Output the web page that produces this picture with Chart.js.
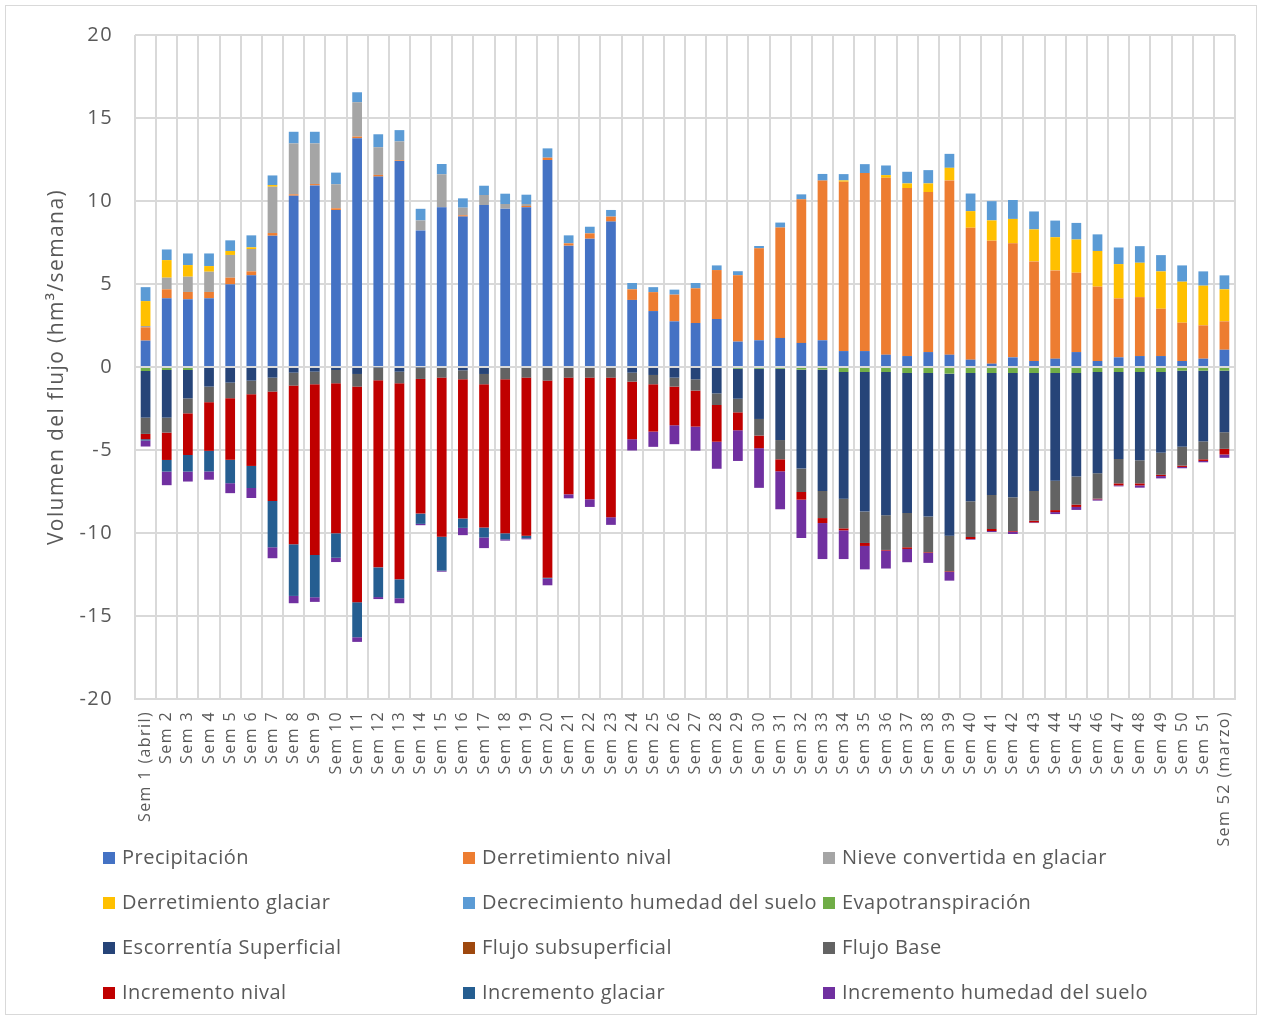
<!DOCTYPE html>
<html><head><meta charset="utf-8">
<script src="https://cdn.jsdelivr.net/npm/chart.js@4/dist/chart.umd.min.js"></script>
<style>
html,body{margin:0;padding:0;background:#fff;}
#frame{position:absolute;left:5px;top:5px;width:1252px;height:1010px;border:1px solid #d9d9d9;box-sizing:border-box;}
#wrap{position:absolute;left:0;top:0;width:1264px;height:860px;}
#legend{position:absolute;left:0;top:835px;width:1264px;height:180px;font-family:"Open Sans",sans-serif;font-size:20px;letter-spacing:0.5px;color:#595959;}
.li{position:absolute;height:44px;line-height:44px;white-space:nowrap;}
.sw{display:inline-block;width:12px;height:12px;margin-right:7px;vertical-align:middle;position:relative;top:-1px;}
</style></head><body>
<div id="frame"></div>
<div id="wrap"><canvas id="c" width="1264" height="860"></canvas></div>
<div id="legend"></div>
<script>
const labels = ['Sem 1 (abril)','Sem 2','Sem 3','Sem 4','Sem 5','Sem 6','Sem 7','Sem 8','Sem 9','Sem 10','Sem 11','Sem 12','Sem 13','Sem 14','Sem 15','Sem 16','Sem 17','Sem 18','Sem 19','Sem 20','Sem 21','Sem 22','Sem 23','Sem 24','Sem 25','Sem 26','Sem 27','Sem 28','Sem 29','Sem 30','Sem 31','Sem 32','Sem 33','Sem 34','Sem 35','Sem 36','Sem 37','Sem 38','Sem 39','Sem 40','Sem 41','Sem 42','Sem 43','Sem 44','Sem 45','Sem 46','Sem 47','Sem 48','Sem 49','Sem 50','Sem 51','Sem 52 (marzo)'];

const seriesNames = ['Precipitación','Derretimiento nival','Nieve convertida en glaciar','Derretimiento glaciar','Decrecimiento humedad del suelo','Evapotranspiración','Escorrentía Superficial','Flujo subsuperficial','Flujo Base','Incremento nival','Incremento glaciar','Incremento humedad del suelo'];
const seriesColors = ['#4472C4','#ED7D31','#A5A5A5','#FFC000','#5B9BD5','#70AD47','#264478','#9E480E','#636363','#C00000','#255E91','#7030A0'];

const precipitacion = [1.59,4.14,4.08,4.14,4.98,5.52,7.91,10.32,10.94,9.46,13.78,11.47,12.41,8.23,9.62,9.06,9.76,9.54,9.62,12.47,7.31,7.73,8.76,4.04,3.37,2.75,2.65,2.89,1.53,1.61,1.75,1.45,1.61,0.96,0.96,0.74,0.66,0.9,0.74,0.44,0.2,0.58,0.36,0.5,0.9,0.36,0.58,0.66,0.66,0.36,0.5,1.04];
const derretimientoNival = [0.8,0.54,0.44,0.38,0.4,0.24,0.16,0.08,0.08,0.1,0.1,0.1,0.04,0,0,0.08,0,0,0.08,0.14,0.14,0.32,0.3,0.64,1.14,1.61,2.09,2.95,4.0,5.54,6.65,8.65,9.62,10.2,10.72,10.66,10.12,9.64,10.5,7.95,7.41,6.87,6.0,5.32,4.78,4.48,3.55,3.55,2.85,2.31,2.01,1.71];
const nieveGlaciar = [0.08,0.7,0.92,1.22,1.37,1.35,2.79,3.07,2.45,1.45,2.07,1.67,1.14,0.6,1.99,0.46,0.6,0.28,0.12,0,0,0,0,0,0,0,0,0,0,0,0,0,0,0,0,0,0,0,0,0,0,0,0,0,0,0,0,0,0,0,0,0];
const derretimientoGlaciar = [1.5,1.06,0.7,0.34,0.24,0.1,0.1,0,0,0,0,0,0,0,0,0,0,0,0,0,0,0,0,0,0,0,0,0,0,0,0,0,0,0.08,0,0.16,0.28,0.52,0.76,1.0,1.22,1.47,1.93,2.0,2.0,2.15,2.07,2.07,2.25,2.47,2.39,1.93];
const decrecimientoHumedad = [0.84,0.64,0.7,0.76,0.64,0.72,0.58,0.7,0.7,0.7,0.6,0.78,0.68,0.7,0.62,0.56,0.56,0.62,0.56,0.56,0.48,0.4,0.4,0.38,0.3,0.3,0.32,0.28,0.24,0.14,0.3,0.3,0.4,0.38,0.54,0.58,0.7,0.8,0.84,1.06,1.16,1.14,1.08,1.0,1.0,1.0,1.0,1.0,0.98,0.98,0.86,0.84];
const evapotranspiracion = [-0.24,-0.18,-0.18,-0.06,-0.06,-0.06,0,0,0,0,0,0,0,0,0,0,0,0,0,0,0,0,0,0,0,0,0,0,-0.1,-0.1,-0.1,-0.16,-0.16,-0.3,-0.3,-0.3,-0.36,-0.36,-0.4,-0.36,-0.36,-0.36,-0.36,-0.36,-0.36,-0.3,-0.3,-0.3,-0.3,-0.22,-0.22,-0.22];
const escorrentia = [-2.81,-2.87,-1.71,-1.12,-0.88,-0.76,-0.64,-0.34,-0.28,-0.18,-0.42,-0.04,-0.28,-0.04,0,-0.2,-0.42,0,0,0,0,0,0,-0.34,-0.48,-0.64,-0.74,-1.59,-1.81,-3.03,-4.3,-5.96,-7.31,-7.63,-8.41,-8.63,-8.43,-8.65,-9.76,-7.73,-7.35,-7.49,-7.11,-6.49,-6.24,-6.1,-5.24,-5.32,-4.86,-4.58,-4.26,-3.71];
const flujoSubsuperficial = [0,0,0,0,0,0,0,0,0,0,0,0,0,0,0,0,0,0,0,0,0,0,0,0,0,0,0,0,0,0,0,0,0,0,0,0,0,0,0,0,0,0,0,0,0,0,0,0,0,0,0,0];
const flujoBase = [-0.98,-0.9,-0.9,-0.94,-0.94,-0.82,-0.84,-0.78,-0.76,-0.8,-0.76,-0.76,-0.7,-0.68,-0.64,-0.54,-0.62,-0.74,-0.64,-0.82,-0.64,-0.64,-0.64,-0.54,-0.56,-0.54,-0.68,-0.7,-0.82,-1.0,-1.16,-1.41,-1.63,-1.79,-1.89,-2.09,-2.07,-2.15,-2.15,-2.15,-2.05,-2.03,-1.79,-1.77,-1.69,-1.53,-1.47,-1.39,-1.33,-1.14,-1.08,-1.0];
const incrementoNival = [-0.32,-1.65,-2.51,-2.93,-3.71,-4.32,-6.59,-9.56,-10.28,-9.04,-12.99,-11.27,-11.81,-8.11,-9.58,-8.39,-8.63,-9.28,-9.52,-11.87,-7.03,-7.33,-8.41,-3.47,-2.85,-2.33,-2.17,-2.21,-1.08,-0.76,-0.72,-0.46,-0.3,-0.12,-0.18,-0.04,-0.1,-0.04,-0.04,-0.12,-0.12,-0.04,-0.1,-0.12,-0.14,-0.04,-0.12,-0.12,-0.08,-0.08,-0.1,-0.34];
const incrementoGlaciar = [-0.08,-0.7,-1.0,-1.24,-1.41,-1.33,-2.79,-3.11,-2.55,-1.47,-2.11,-1.79,-1.14,-0.62,-2.05,-0.56,-0.6,-0.36,-0.16,-0.06,0,0,0,0,0,0,0,0,0,0,0,0,0,0,0,0,0,0,0,0,0,0,0,0,0,0,0,0,0,0,0,0];
const incrementoHumedad = [-0.36,-0.82,-0.6,-0.5,-0.6,-0.6,-0.66,-0.44,-0.28,-0.26,-0.28,-0.12,-0.3,-0.08,-0.06,-0.44,-0.64,-0.08,-0.06,-0.4,-0.24,-0.46,-0.46,-0.68,-0.92,-1.14,-1.45,-1.63,-1.85,-2.39,-2.29,-2.31,-2.17,-1.73,-1.41,-1.08,-0.8,-0.6,-0.52,-0.04,-0.06,-0.14,-0.04,-0.12,-0.18,-0.08,-0.06,-0.14,-0.14,-0.08,-0.08,-0.2];

const yTicks = [-20,-15,-10,-5,0,5,10,15,20];

const seriesData = [precipitacion,derretimientoNival,nieveGlaciar,derretimientoGlaciar,decrecimientoHumedad,evapotranspiracion,escorrentia,flujoSubsuperficial,flujoBase,incrementoNival,incrementoGlaciar,incrementoHumedad];

const datasets = seriesNames.map((n,i)=>({
  label:n, data:seriesData[i], backgroundColor:seriesColors[i], borderWidth:0,
  stack:'s', barPercentage:0.46, categoryPercentage:1.0
}));

const spacingPlugin = {
  id:'spacing',
  beforeDraw:(chart)=>{ chart.ctx.letterSpacing='1.4px'; }
};

new Chart(document.getElementById('c'),{
  type:'bar',
  data:{labels:labels, datasets:datasets},
  plugins:[spacingPlugin],
  options:{
    responsive:false, animation:false,
    layout:{padding:{left:0,right:29,top:35,bottom:0}},
    plugins:{legend:{display:false},tooltip:{enabled:false}},
    scales:{
      x:{stacked:true,
        grid:{color:'#d9d9d9',lineWidth:2,offset:true,drawTicks:false},
        border:{color:'#d9d9d9',width:2},
        ticks:{minRotation:90,maxRotation:90,autoSkip:false,padding:12,color:'#595959',font:{family:'"Open Sans"',size:16}},
        afterFit:(s)=>{s.height=161;}
      },
      y:{stacked:true,min:-20,max:20,
        grid:{color:'#d9d9d9',lineWidth:2,drawTicks:false},
        border:{display:false},
        afterBuildTicks:(s)=>{s.ticks=yTicks.map(v=>({value:v}));},
        ticks:{padding:22,color:'#595959',font:{family:'"Open Sans"',size:20}},
        title:{display:true,text:'Volumen del flujo (hm³/semana)',color:'#595959',font:{family:'"Open Sans"',size:21},padding:{top:44,bottom:0}},
        afterFit:(s)=>{s.width=135;}
      }
    }
  }
});

const leg=document.getElementById('legend');
const colX=[103,463,823];
seriesNames.forEach((n,i)=>{
  const d=document.createElement('div');
  d.className='li';
  d.style.left=colX[i%3]+'px';
  d.style.top=(Math.floor(i/3)*45)+'px';
  d.innerHTML='<span class="sw" style="background:'+seriesColors[i]+'"></span>'+n;
  leg.appendChild(d);
});
</script>
</body></html>
